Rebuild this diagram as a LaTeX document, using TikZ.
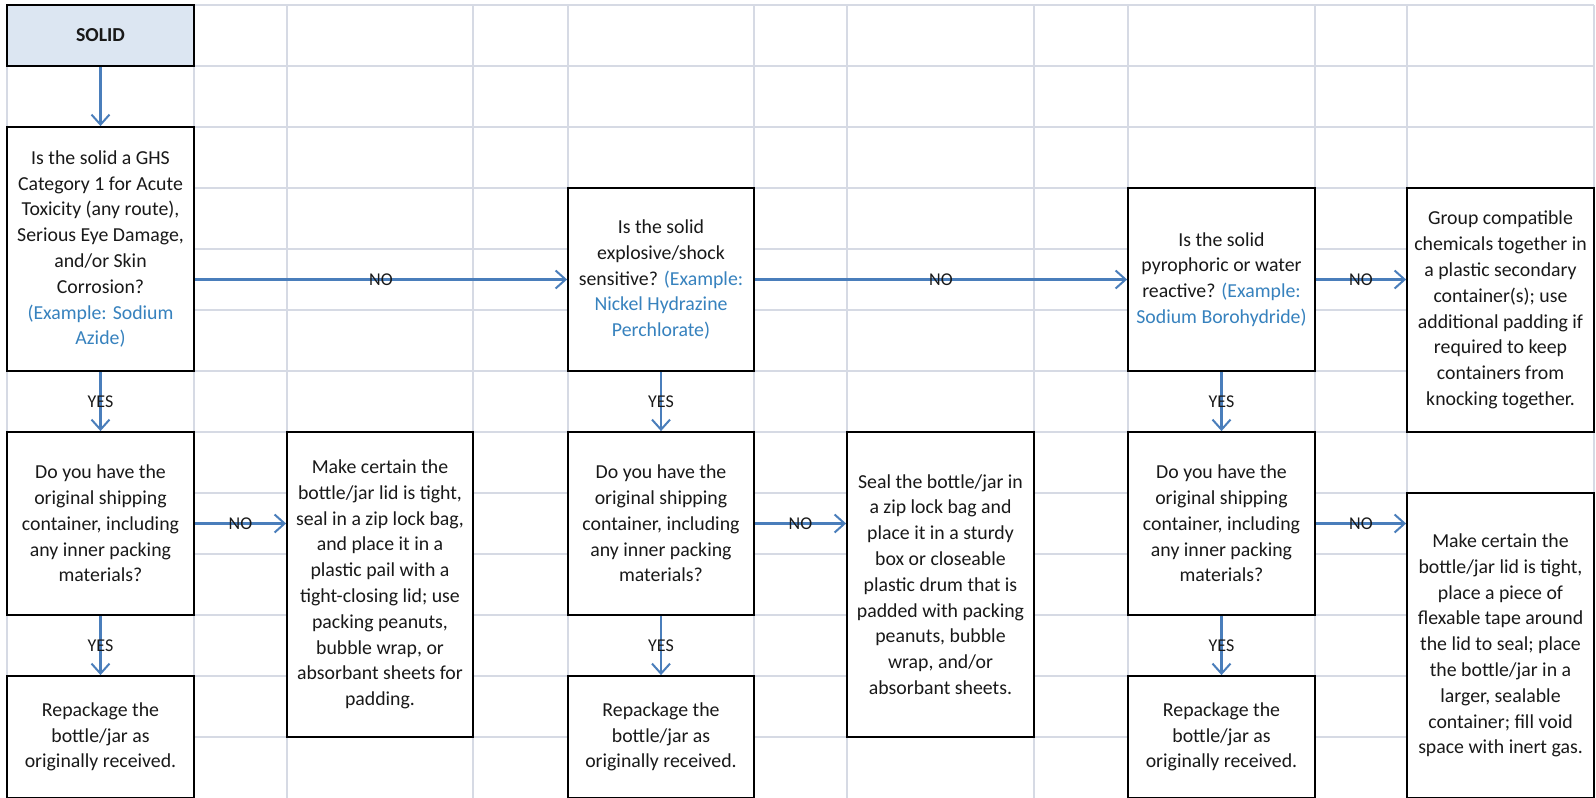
\documentclass[tikz,border=0pt]{standalone}
\usepackage{fontspec}
\setmainfont{Carlito}
\usetikzlibrary{arrows.meta}
\definecolor{gridc}{RGB}{214,218,228}
\definecolor{arrowblue}{RGB}{74,126,187}
\definecolor{exblue}{RGB}{55,130,190}
\definecolor{solidfill}{RGB}{220,230,242}
\newcommand{\exmp}[1]{\textcolor{exblue}{#1}}
\tikzset{
  box/.style={draw=black, line width=1.8pt, fill=white, align=center, inner sep=0pt,
    font=\fontsize{19.8}{25.8}\selectfont, text=black!90},
  wide/.style={minimum width=187pt},
  arr/.style={draw=arrowblue, line width=2.2pt, -{Straight Barb[length=10pt,width=18pt,line width=2pt]}},
  lbl/.style={font=\fontsize{18}{18}\selectfont, inner sep=0pt, text=black!90}
}
\begin{document}
\begin{tikzpicture}[x=1pt,y=-1pt]
\useasboundingbox (0,0) rectangle (1596,798);
\fill[white] (0,0) rectangle (1596,798);
% grid
\foreach \xx in {7,194,287,473,568,754,847,1034,1128,1315,1407,1594}
  \draw[gridc, line width=1.6pt] (\xx,5) -- (\xx,798);
\foreach \k in {0,...,12}
  \draw[gridc, line width=1.6pt] (7,{5+61*\k}) -- (1594,{5+61*\k});
% boxes
\node[box, wide, minimum height=61pt, fill=solidfill, font=\fontsize{19.8}{25.8}\selectfont\bfseries] (solid) at (100.5,35.5) {SOLID};
\node[box, wide, minimum height=244pt] (q1) at (100.5,249) {Is the solid a GHS\\Category 1 for Acute\\Toxicity (any route),\\Serious Eye Damage,\\and/or Skin\\Corrosion?\\\exmp{(Example: Sodium}\\\exmp{Azide)}};
\node[box, minimum width=186pt, minimum height=183pt] (q2) at (661,279.5) {Is the solid\\explosive/shock\\sensitive? \exmp{(Example:}\\\exmp{Nickel Hydrazine}\\\exmp{Perchlorate)}};
\node[box, wide, minimum height=183pt] (q3) at (1221.5,279.5) {Is the solid\\pyrophoric or water\\reactive? \exmp{(Example:}\\\exmp{Sodium Borohydride)}};
\node[box, wide, minimum height=244pt] (grp) at (1500.5,310) {\raisebox{0pt}{}Group compatible\\chemicals together in\\a plastic secondary\\container(s); use\\additional padding if\\required to keep\\containers from\\knocking together.};
\node[box, wide, minimum height=183pt] (d1) at (100.5,523.5) {Do you have the\\original shipping\\container, including\\any inner packing\\materials?};
\node[box, minimum width=186pt, minimum height=183pt] (d2) at (661,523.5) {Do you have the\\original shipping\\container, including\\any inner packing\\materials?};
\node[box, wide, minimum height=183pt] (d3) at (1221.5,523.5) {Do you have the\\original shipping\\container, including\\any inner packing\\materials?};
\node[box, wide, minimum height=122pt] (r1) at (100.5,737) {Repackage the\\bottle/jar as\\originally received.};
\node[box, minimum width=186pt, minimum height=122pt] (r2) at (661,737) {Repackage the\\bottle/jar as\\originally received.};
\node[box, wide, minimum height=122pt] (r3) at (1221.5,737) {Repackage the\\bottle/jar as\\originally received.};
\node[box, minimum width=186pt, minimum height=305pt] (mc1) at (380,584.5) {Make certain the\\bottle/jar lid is tight,\\seal in a zip lock bag,\\and place it in a\\plastic pail with a\\tight-closing lid; use\\packing peanuts,\\bubble wrap, or\\absorbant sheets for\\padding.};
\node[box, wide, minimum height=305pt] (seal) at (940.5,584.5) {Seal the bottle/jar in\\a zip lock bag and\\place it in a sturdy\\box or closeable\\plastic drum that is\\padded with packing\\peanuts, bubble\\wrap, and/or\\absorbant sheets.};
\node[box, wide, minimum height=305pt] (mc2) at (1500.5,645.5) {Make certain the\\bottle/jar lid is tight,\\place a piece of\\flexable tape around\\the lid to seal; place\\the bottle/jar in a\\larger, sealable\\container; fill void\\space with inert gas.};
% connectors
\draw[arr] (solid) -- (q1);
\draw[arr] (q1.east |- q2.west) -- node[lbl] (l1) {NO} (q2.west);
\draw[arr] (q2.east) -- node[lbl] (l2) {NO} (q3.west);
\draw[arr] (q3.east) -- node[lbl] (l3) {NO} (grp.west |- q3.east);
\draw[arr] (q1) -- node[lbl] (l4) {YES} (d1);
\draw[arr] (q2) -- node[lbl] (l5) {YES} (d2);
\draw[arr] (q3) -- node[lbl] (l6) {YES} (d3);
\draw[arr] (d1) -- node[lbl] (l7) {YES} (r1);
\draw[arr] (d2) -- node[lbl] (l8) {YES} (r2);
\draw[arr] (d3) -- node[lbl] (l9) {YES} (r3);
\draw[arr] (d1.east) -- node[lbl] (l10) {NO} (mc1.west |- d1.east);
\draw[arr] (d2.east) -- node[lbl] (l11) {NO} (seal.west |- d2.east);
\draw[arr] (d3.east) -- node[lbl] (l12) {NO} (mc2.west |- d3.east);
\end{tikzpicture}
\end{document}
